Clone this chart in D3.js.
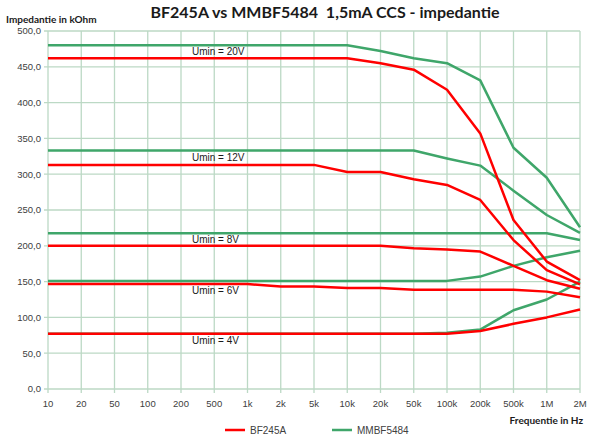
<!DOCTYPE html>
<html>
<head>
<meta charset="utf-8">
<script src="https://cdn.jsdelivr.net/npm/d3@7"></script>
<style>
  body { margin: 0; background: #fff; }
  svg { display: block; font-family: 'Liberation Sans', Arial, sans-serif; }
</style>
</head>
<body>
<div id="chart"></div>
<script>
// frequency categories (equally spaced on the chart)
let freqs = ['10', '20', '50', '100', '200', '500', '1k', '2k', '5k', '10k', '20k', '50k', '100k', '200k', '500k', '1M', '2M']

// BF245A impedance (kOhm) per Umin
let bf20 = [462, 462, 462, 462, 462, 462, 462, 462, 462, 462, 455, 446, 418, 357, 236, 178, 152]
let bf12 = [313, 313, 313, 313, 313, 313, 313, 313, 313, 303, 303, 293, 285, 264, 208, 166, 146]
let bf8 = [200, 200, 200, 200, 200, 200, 200, 200, 200, 200, 200, 196.5, 195, 192, 172, 152, 140]
let bf6 = [146.6, 146.6, 146.6, 146.6, 146.6, 146.6, 146.6, 143, 143, 141, 141, 138.5, 138.5, 138.5, 138.5, 136, 128]
let bf4 = [77, 77, 77, 77, 77, 77, 77, 77, 77, 77, 77, 77, 77, 81, 91, 100, 111]

// MMBF5484 impedance (kOhm) per Umin
let mm20 = [480, 480, 480, 480, 480, 480, 480, 480, 480, 480, 472, 462, 455, 431, 337, 295, 226]
let mm12 = [333, 333, 333, 333, 333, 333, 333, 333, 333, 333, 333, 333, 322, 312, 277, 243, 218]
let mm8 = [217.5, 217.5, 217.5, 217.5, 217.5, 217.5, 217.5, 217.5, 217.5, 217.5, 217.5, 217.5, 217.5, 217.5, 217.5, 217.5, 208]
let mm6 = [151, 151, 151, 151, 151, 151, 151, 151, 151, 151, 151, 151, 151, 157, 172, 184, 193]
let mm4 = [77, 77, 77, 77, 77, 77, 77, 77, 77, 77, 77, 77, 78.6, 83, 110, 125, 150]

let yTicks = [0, 50, 100, 150, 200, 250, 300, 350, 400, 450, 500]
let uminLabels = ['Umin = 20V', 'Umin = 12V', 'Umin = 8V', 'Umin = 6V', 'Umin = 4V']
let uminAt = [471, 323, 209, 137, 68]
let seriesNames = ['BF245A', 'MMBF5484']

let width = 600,
    height = 436,
    margin = { top: 31, right: 20, bottom: 47, left: 48 }

let red = '#ff0000',
    green = '#3fa66a',
    grid = '#bcd9c5',
    textCol = '#404040'

let svg = d3.select('#chart').append('svg')
    .attr('width', width)
    .attr('height', height)

let x = d3.scalePoint()
    .domain(freqs)
    .range([margin.left, width - margin.right])

let y = d3.scaleLinear()
    .domain([0, 500])
    .range([height - margin.bottom, margin.top])

// grid
svg.append('g')
    .selectAll('line')
    .data(yTicks)
    .enter().append('line')
    .attr('x1', margin.left - 4)
    .attr('x2', width - margin.right)
    .attr('y1', d => y(d))
    .attr('y2', d => y(d))
    .attr('stroke', grid)
    .attr('stroke-width', 1.3)

svg.append('g')
    .selectAll('line')
    .data(freqs)
    .enter().append('line')
    .attr('x1', d => x(d))
    .attr('x2', d => x(d))
    .attr('y1', margin.top)
    .attr('y2', height - margin.bottom + 4)
    .attr('stroke', grid)
    .attr('stroke-width', 1.3)

// axis labels
svg.append('g')
    .selectAll('text')
    .data(yTicks)
    .enter().append('text')
    .attr('x', margin.left - 7)
    .attr('y', d => y(d))
    .attr('dy', '0.35em')
    .attr('text-anchor', 'end')
    .attr('font-size', 9.5)
    .attr('fill', textCol)
    .text(d => d3.format('.1f')(d).replace('.', ','))

svg.append('g')
    .selectAll('text')
    .data(freqs)
    .enter().append('text')
    .attr('x', d => x(d))
    .attr('y', height - margin.bottom + 15)
    .attr('dy', '0.35em')
    .attr('text-anchor', 'middle')
    .attr('font-size', 9.5)
    .attr('fill', textCol)
    .text(d => d)

let line = d3.line()
    .x((d, i) => x(freqs[i]))
    .y(d => y(d))

let greens = [mm20, mm12, mm8, mm6, mm4]
let reds = [bf20, bf12, bf8, bf6, bf4]

svg.append('g')
    .selectAll('path')
    .data(greens)
    .enter().append('path')
    .attr('d', line)
    .attr('fill', 'none')
    .attr('stroke', green)
    .attr('stroke-width', 2.5)
    .attr('stroke-linejoin', 'round')

svg.append('g')
    .selectAll('path')
    .data(reds)
    .enter().append('path')
    .attr('d', line)
    .attr('fill', 'none')
    .attr('stroke', red)
    .attr('stroke-width', 2.5)
    .attr('stroke-linejoin', 'round')

// Umin annotations
svg.append('g')
    .selectAll('text')
    .data(uminLabels)
    .enter().append('text')
    .attr('x', x('200') + 11)
    .attr('y', (d, i) => y(uminAt[i]))
    .attr('dy', '0.35em')
    .attr('font-size', 10)
    .attr('fill', '#1a1a1a')
    .text(d => d)

// titles
svg.append('text')
    .attr('x', 325)
    .attr('y', 18)
    .attr('text-anchor', 'middle')
    .attr('font-family', 'Lato, sans-serif')
    .attr('font-weight', 'bold')
    .attr('font-size', 16)
    .attr('fill', '#1a1a1a')
    .style('white-space', 'pre')
    .text('BF245A vs MMBF5484  1,5mA CCS - impedantie')

svg.append('text')
    .attr('x', 6)
    .attr('y', 23)
    .attr('font-family', 'Lato, sans-serif')
    .attr('font-weight', 'bold')
    .attr('font-size', 10)
    .attr('fill', '#1a1a1a')
    .text('Impedantie in kOhm')

svg.append('text')
    .attr('x', 583)
    .attr('y', 424)
    .attr('text-anchor', 'end')
    .attr('font-family', 'Lato, sans-serif')
    .attr('font-weight', 'bold')
    .attr('font-size', 10)
    .attr('fill', '#1a1a1a')
    .text('Frequentie in Hz')

// legend
let legend = svg.append('g')
    .selectAll('g')
    .data(seriesNames)
    .enter().append('g')
    .attr('transform', (d, i) => `translate(${225 + i * 107},430)`)

legend.append('line')
    .attr('x1', 0)
    .attr('x2', 20)
    .attr('stroke', (d, i) => i === 0 ? red : green)
    .attr('stroke-width', 2.5)

legend.append('text')
    .attr('x', 25)
    .attr('dy', '0.35em')
    .attr('font-size', 10)
    .attr('fill', textCol)
    .text(d => d)
</script>
</body>
</html>
